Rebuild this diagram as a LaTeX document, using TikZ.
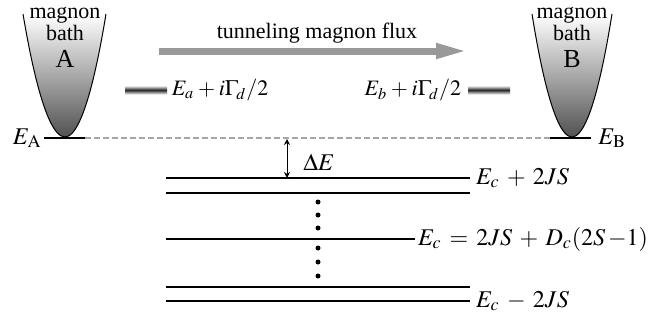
\documentclass[tikz,border=0pt]{standalone}
\usepackage{mathptmx}
\usepackage[no-math]{fontspec}
\setmainfont{Liberation Serif}
\usetikzlibrary{arrows.meta, positioning}
\newcommand\widemath{\medmuskip 5.5mu\relax\thickmuskip 6mu\relax}
\newcommand\narrowmath{\medmuskip 3mu\relax}

\begin{document}
\begin{tikzpicture}[
        x=0.5pt, y=-0.5pt,
        level/.style={line width=1pt},
        bath/.style={draw=black, line width=0.5pt, top color=white, bottom color=black!68},
        bar/.style={minimum width=21pt, minimum height=4.5pt, inner sep=0pt,
                    top color=white, bottom color=white, middle color=black!85},
        txt/.style={font=\fontsize{11}{13}\selectfont, inner sep=0pt},
        elbl/.style={font={\fontsize{12}{14}\selectfont\widemath},
                     inner sep=2.5pt, anchor=west},
        dlbl/.style={font={\fontsize{11}{14}\selectfont\narrowmath}, inner sep=0pt},
        flux/.style={draw=black!40, line width=3.5pt,
                     -{Triangle[length=16pt, width=7pt]}}
    ]
    \useasboundingbox (0,0) rectangle (667,327);

    % magnon baths
    \shadedraw[bath] (23,14) parabola bend (65,137) (106,14);
    \shadedraw[bath] (532,14) parabola bend (572,137) (612,14);

    \node[txt, anchor=base] (magA)  at (65,18) {magnon};
    \node[txt, anchor=base] (bathA) at (65,40) {bath};
    \node[txt, anchor=base, font=\fontsize{13}{15}\selectfont] (nameA) at (65,67) {A};
    \node[txt, anchor=base] (magB)  at (572,18) {magnon};
    \node[txt, anchor=base] (bathB) at (572,40) {bath};
    \node[txt, anchor=base, font=\fontsize{13}{15}\selectfont] (nameB) at (572,67) {B};

    % bath edges
    \coordinate (a0) at (44,138);
    \coordinate (a1) at (85,138);
    \coordinate (b0) at (550,138);
    \coordinate (b1) at (591,138);
    \draw[level] (a0) -- (a1);
    \draw[level] (b0) -- (b1);
    \draw[black!35, line width=0.6pt, dash pattern=on 3pt off 1.5pt] (a1) -- (b0);
    \node[elbl, anchor=base east, inner sep=1pt] (EA) at (44,144) {$E_{\mathrm{A}}$};
    \node[elbl, anchor=base west, inner sep=1pt] (EB) at (596,144) {$E_{\mathrm{B}}$};

    % tunneling flux
    \coordinate (f0) at (159,51);
    \coordinate (f1) at (468,51);
    \draw[flux] (f0) -- (f1);
    \node[txt] (fluxlbl) at (317,33) {tunneling magnon flux};

    % dot levels
    \node[bar] (La) at (146,90) {};
    \node[bar] (Lb) at (489,90) {};
    \node[dlbl, right=2pt of La] (Ea) {$E_a + i\Gamma_{\!d}/2$};
    \node[dlbl, left=3pt of Lb]  (Eb) {$E_b + i\Gamma_{\!d}/2$};

    % spin levels
    \draw[level] (166,178) coordinate (t0) -- (470,178) coordinate (t1) node[elbl] {$E_c + 2JS$};
    \draw[level] (166,193) -- (470,193);
    \draw[level] (166,239) -- (415,239) node[elbl, inner sep=1pt] {$E_c = 2JS + D_c(2S\,{-}1)$};
    \draw[level] (166,287) -- (470,287);
    \draw[level] (166,301) -- (470,301) node[elbl] {$E_c - 2JS$};
    \foreach \y in {202,215,228,248,262,276}
        \fill (318,\y) circle[radius=1.25pt];

    % gap
    \coordinate (g0) at (287,139);
    \coordinate (g1) at (287,178);
    \draw[line width=0.5pt, {Stealth[length=3pt,width=3pt]}-{Stealth[length=3pt,width=3pt]}] (g0) -- (g1);
    \node[elbl] (dE) at (298,162) {$\Delta E$};
\end{tikzpicture}
\end{document}
